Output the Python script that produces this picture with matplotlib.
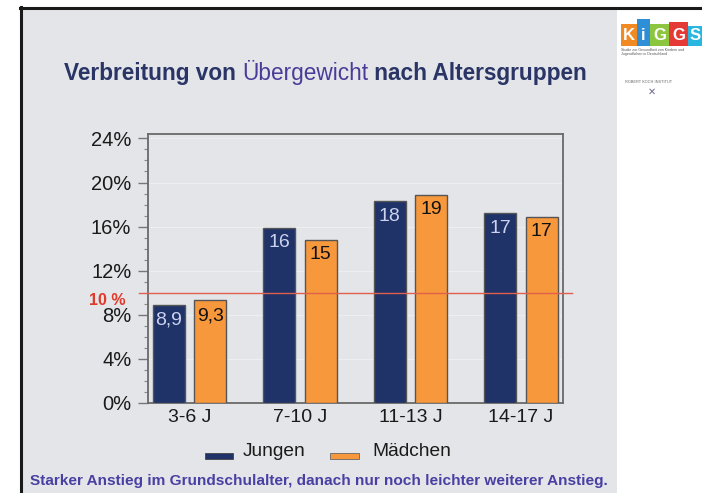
import matplotlib
matplotlib.use("Agg")
import matplotlib.pyplot as plt
from matplotlib.patches import Rectangle
from matplotlib.lines import Line2D
import numpy as np

plt.rcParams['font.family'] = ['Liberation Sans', 'DejaVu Sans']

categories = ["3-6 J", "7-10 J", "11-13 J", "14-17 J"]
jungen = [8.9, 15.9, 18.3, 17.2]
maedchen = [9.3, 14.8, 18.9, 16.9]
jungen_labels = ["8,9", "16", "18", "17"]
maedchen_labels = ["9,3", "15", "19", "17"]
yticks = [0, 4, 8, 12, 16, 20, 24]
ytick_labels = ["0%", "4%", "8%", "12%", "16%", "20%", "24%"]
threshold = 10

W, H = 702, 493
fig = plt.figure(figsize=(W / 100, H / 100), dpi=100)
fig.patch.set_facecolor("white")

bg = "#e3e5e9"
navy = "#1f3369"
orange = "#f7983c"

def fx(px):
    return px / W

def fy(py):
    return 1 - py / H

# slide background
fig.patches.append(Rectangle((fx(21), 0), fx(617) - fx(21), fy(8), transform=fig.transFigure,
                             facecolor=bg, edgecolor="none", zorder=-10))
fig.lines.append(Line2D([fx(21), fx(21)], [0, fy(7)], transform=fig.transFigure, color="#1a1a1a", lw=2.2,
                        zorder=-5))
fig.lines.append(Line2D([fx(20), 1], [fy(8), fy(8)], transform=fig.transFigure, color="#1a1a1a", lw=2.2,
                        zorder=-5))

# title
tfs = 16.3
tb = 80
t1 = fig.text(fx(64), fy(tb), "Verbreitung von ", fontsize=tfs, fontweight="bold", color="#2a3566",
              ha="left", va="baseline")
fig.canvas.draw()
r = fig.canvas.get_renderer()
bb = t1.get_window_extent(r)
t2 = fig.text(bb.x1 / W, fy(tb), "Übergewicht", fontsize=tfs, color="#4b3b98", ha="left", va="baseline")
bb2 = t2.get_window_extent(r)
fig.text(bb2.x1 / W, fy(tb), " nach Altersgruppen", fontsize=tfs, fontweight="bold", color="#2a3566",
         ha="left", va="baseline")

# axes
ax = fig.add_axes([fx(148), 1 - 403 / H, 415 / W, 269 / H])
ax.set_facecolor(bg)
x = np.arange(len(categories))
bw = 0.29
off = 0.188
b1 = ax.bar(x - off, jungen, bw, color=navy, edgecolor="#555555", linewidth=1.0, zorder=3)
b2 = ax.bar(x + off, maedchen, bw, color=orange, edgecolor="#555555", linewidth=1.0, zorder=3)
for rect, lab in zip(b1, jungen_labels):
    ax.text(rect.get_x() + rect.get_width() / 2, rect.get_height() - 0.6, lab, ha="center", va="top",
            fontsize=14, color="#cdd2ee", zorder=4)
for rect, lab in zip(b2, maedchen_labels):
    ax.text(rect.get_x() + rect.get_width() / 2, rect.get_height() - 0.6, lab, ha="center", va="top",
            fontsize=14, color="#111111", zorder=4)

ax.set_xlim(-0.377, 3.38)
ax.set_ylim(0, 24.4)
ax.set_yticks(yticks)
ax.set_yticklabels(ytick_labels, fontsize=14.5, color="#1a1a1a")
ax.set_yticks(np.arange(0, 25, 1), minor=True)
ax.set_xticks(x)
ax.set_xticklabels(categories, fontsize=14, color="#1a1a1a")
ax.tick_params(axis="x", length=0, pad=4)
ax.tick_params(axis="y", which="major", length=7, width=1, color="#777777", pad=5)
ax.tick_params(axis="y", which="minor", length=3, width=0.8, color="#888888")
for s in ax.spines.values():
    s.set_color("#6a6a6a")
    s.set_linewidth(1.3)
ax.grid(axis="y", which="major", color="#eceef1", lw=0.8, zorder=1)

# threshold line
ax.plot([-0.455, 3.46], [threshold, threshold], color="#e0604c", lw=1.0, zorder=5, clip_on=False)
ax.text(-0.58, threshold, "10 %", color="#e03a2a", fontsize=11.5, fontweight="bold",
        ha="right", va="top", transform=ax.transData)

# legend
fig.patches.append(Rectangle((fx(205), fy(459)), fx(28), 6 / H, transform=fig.transFigure,
                             facecolor=navy, edgecolor="#444444", lw=0.6))
fig.text(fx(243), fy(451), "Jungen", fontsize=13.8, color="#1a1a1a", ha="left", va="center")
fig.patches.append(Rectangle((fx(330), fy(459)), fx(29), 6 / H, transform=fig.transFigure,
                             facecolor=orange, edgecolor="#666666", lw=0.6))
fig.text(fx(372), fy(451), "Mädchen", fontsize=13.8, color="#1a1a1a", ha="left", va="center")

# footer
fig.text(fx(30), fy(481), "Starker Anstieg im Grundschulalter, danach nur noch leichter weiterer Anstieg.",
         fontsize=11.1, fontweight="bold", color="#4a3fa2", ha="left", va="center")

# logos (approximate)
kcols = ["#f28a24", "#2e8fd6", "#8cc63e", "#e53935", "#29b6e0"]
kletters = ["K", "i", "G", "G", "S"]
kx = [621, 637, 650, 669, 688]
kw = [16, 13, 19, 19, 14]
kh = [22, 27, 22, 24, 20]
for c, l, xx, ww, hh in zip(kcols, kletters, kx, kw, kh):
    fig.patches.append(Rectangle((fx(xx), fy(46)), fx(ww), hh / H, transform=fig.transFigure,
                                 facecolor=c, edgecolor="none"))
    fig.text(fx(xx + ww / 2), fy(35), l, fontsize=12, fontweight="bold", color="white",
             ha="center", va="center")
fig.text(fx(621), fy(52), "Studie zur Gesundheit von Kindern und\nJugendlichen in Deutschland",
         fontsize=2.6, color="#555555", ha="left", va="center", linespacing=1.0)
fig.text(fx(625), fy(82), "ROBERT KOCH INSTITUT", fontsize=2.8, color="#666666", ha="left", va="center")
fig.text(fx(652), fy(92), "✕", fontsize=7, color="#6a6a8a", ha="center", va="center")

fig.savefig("out.png", dpi=100, facecolor=fig.get_facecolor())
